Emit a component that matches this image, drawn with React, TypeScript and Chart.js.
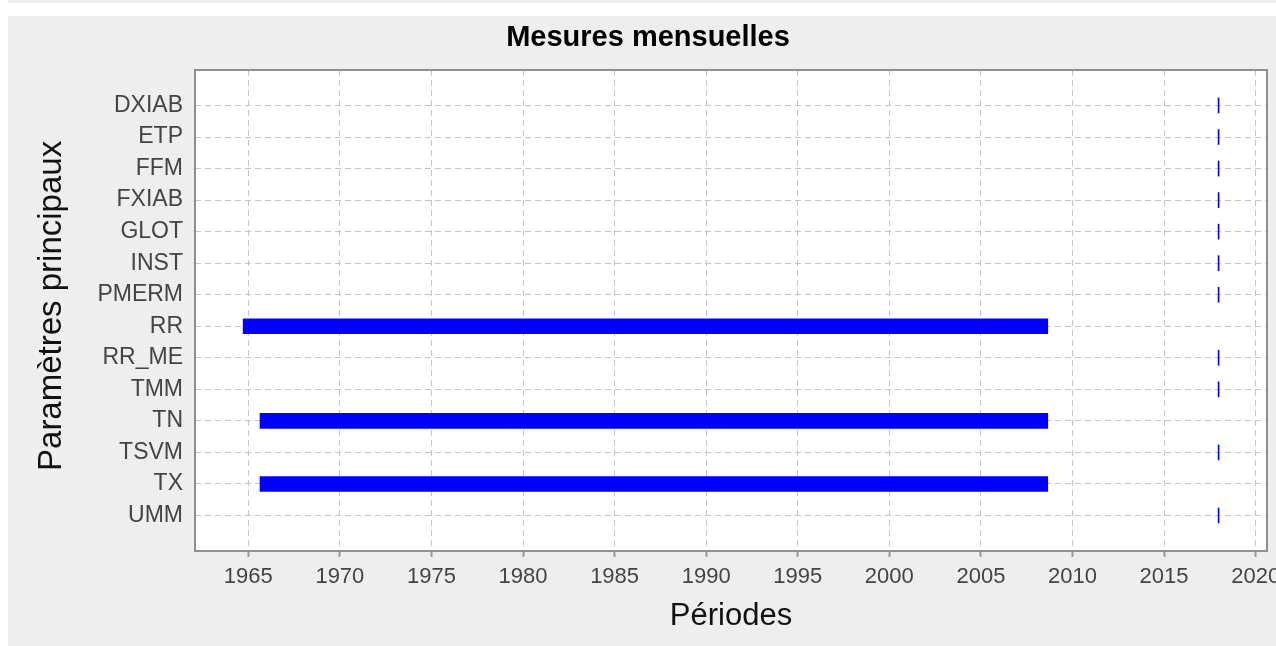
import React, { useEffect, useRef } from 'react';
import { Chart, registerables } from 'chart.js';

Chart.register(...registerables);

// ---- data ----
const categories = ['DXIAB', 'ETP', 'FFM', 'FXIAB', 'GLOT', 'INST', 'PMERM', 'RR', 'RR_ME', 'TMM', 'TN', 'TSVM', 'TX', 'UMM'];
const periodStart = [2017.95, 2017.95, 2017.95, 2017.95, 2017.95, 2017.95, 2017.95, 1964.72, 2017.95, 2017.95, 1965.64, 2017.95, 1965.64, 2017.95];
const periodEnd = [2017.95, 2017.95, 2017.95, 2017.95, 2017.95, 2017.95, 2017.95, 2008.65, 2017.95, 2017.95, 2008.65, 2017.95, 2008.65, 2017.95];
const xTickYears = [1965, 1970, 1975, 1980, 1985, 1990, 1995, 2000, 2005, 2010, 2015, 2020];
const xMin = 1962.09;
const xMax = 2020.62;
const yMin = -1.125;
const yMax = 14.125;

const chartTitle = 'Mesures mensuelles';
const xTitle = 'Périodes';
const yTitle = ' Paramètres principaux';

const FONT = "'Liberation Sans', Arial, Helvetica, sans-serif";

const framePlugin = {
  id: 'frame',
  beforeDraw(chart: any) {
    const { ctx, chartArea: a } = chart;
    ctx.save();
    ctx.fillStyle = '#eeeeee';
    ctx.fillRect(0, 0, chart.width, chart.height);
    ctx.fillStyle = '#ffffff';
    ctx.fillRect(a.left, a.top, a.right - a.left, a.bottom - a.top);
    ctx.restore();
  },
  afterDraw(chart: any) {
    const { ctx, chartArea: a } = chart;
    ctx.save();
    ctx.lineWidth = 2;
    ctx.strokeStyle = '#8f8f8f';
    ctx.strokeRect(a.left, a.top, a.right - a.left, a.bottom - a.top);
    ctx.restore();
  },
};

export default function App() {
  const ref = useRef<HTMLCanvasElement>(null);

  useEffect(() => {
    const data = categories.map((_, i) => ({ x: [periodStart[i], periodEnd[i]], y: i }));
    const chart = new Chart(ref.current as HTMLCanvasElement, {
      type: 'bar',
      data: {
        datasets: [
          {
            data: data as any,
            backgroundColor: '#0000ff',
            borderWidth: 0,
            barThickness: 15,
            minBarLength: 1,
            yAxisID: 'y',
            xAxisID: 'x',
          },
        ],
      },
      options: {
        indexAxis: 'y',
        animation: false,
        responsive: false,
        devicePixelRatio: 1,
        layout: { padding: 0 },
        plugins: {
          legend: { display: false },
          tooltip: { enabled: false },
          title: {
            display: true,
            text: chartTitle,
            color: '#000000',
            font: { family: FONT, size: 29, weight: 'bold', lineHeight: 1.2 },
            padding: { top: 5, bottom: 14.2 },
          },
        },
        scales: {
          x: {
            type: 'linear',
            position: 'bottom',
            min: xMin,
            max: xMax,
            offset: false,
            beginAtZero: false,
            afterBuildTicks: (s: any) => {
              s.ticks = xTickYears.map((v) => ({ value: v }));
            },
            afterFit: (s: any) => {
              s.height = 95;
              s.paddingLeft = 0;
              s.paddingRight = 0;
            },
            ticks: {
              autoSkip: false,
              maxRotation: 0,
              padding: 7,
              color: '#444444',
              font: { family: FONT, size: 22 },
              callback: (v: any) => String(v),
            },
            grid: {
              offset: false,
              color: '#c4c4c4',
              lineWidth: 1,
              tickColor: '#9a9a9a',
              tickWidth: 2,
              tickLength: 6,
              tickBorderDash: [],
            },
            border: { display: false, dash: [6, 4] },
            title: {
              display: true,
              text: xTitle,
              color: '#111111',
              font: { family: FONT, size: 31, lineHeight: 1.2 },
              padding: { top: 0, bottom: 11.4 },
            },
          },
          y: {
            type: 'linear',
            position: 'left',
            reverse: true,
            offset: false,
            min: yMin,
            max: yMax,
            afterBuildTicks: (s: any) => {
              s.ticks = categories.map((_, i) => ({ value: i }));
            },
            afterFit: (s: any) => {
              s.width = 187;
              s.paddingTop = 0;
              s.paddingBottom = 0;
            },
            ticks: {
              autoSkip: false,
              padding: 12,
              color: '#444444',
              font: { family: FONT, size: 23 },
              callback: (v: any) => categories[v] ?? '',
            },
            grid: { offset: false, color: '#c4c4c4', lineWidth: 1, drawTicks: false },
            border: { display: false, dash: [6, 4] },
            title: {
              display: true,
              text: yTitle,
              color: '#111111',
              font: { family: FONT, size: 33, lineHeight: 1.2 },
              padding: { top: 24.2, bottom: 0 },
            },
          },
          yr: {
            type: 'linear',
            position: 'right',
            display: true,
            grid: { display: false, drawTicks: false },
            ticks: { display: false },
            border: { display: false },
            afterFit: (s: any) => {
              s.width = 21;
            },
          },
        },
      } as any,
      plugins: [framePlugin],
    });
    return () => chart.destroy();
  }, []);

  return (
    <div style={{ position: 'fixed', left: 0, top: 0, width: 1276, height: 646, overflow: 'hidden', background: '#ffffff' }}>
      <div style={{ position: 'absolute', left: 8, top: 0, width: 1268, height: 3, background: '#eeeeee' }} />
      <div style={{ position: 'absolute', left: 8, top: 16, width: 1268, height: 630, overflow: 'hidden', background: '#eeeeee' }}>
        <canvas ref={ref} width={1280} height={630} style={{ display: 'block', width: 1280, height: 630 }} />
      </div>
    </div>
  );
}
